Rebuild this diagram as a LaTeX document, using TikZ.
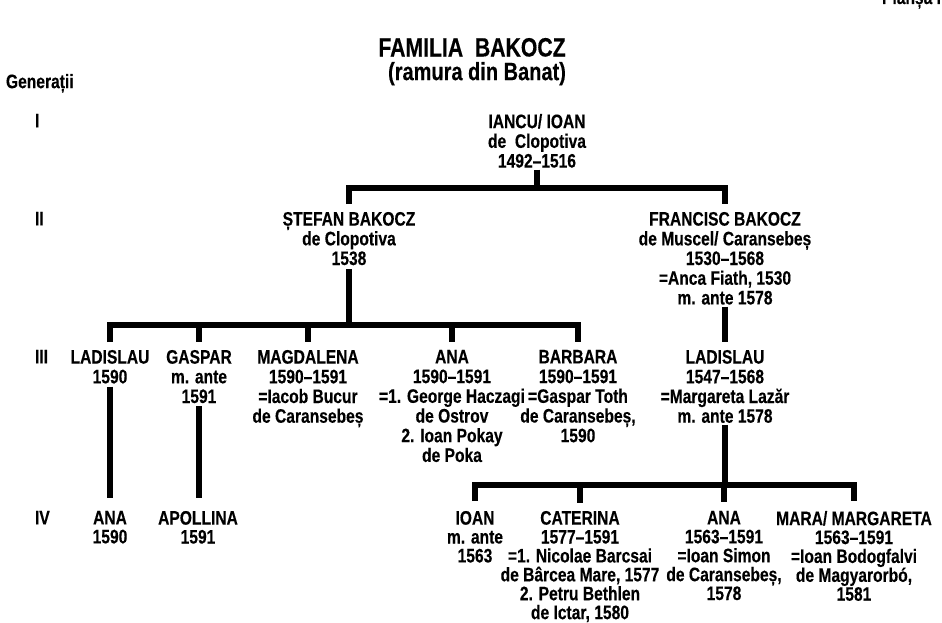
\documentclass[tikz,border=0pt]{standalone}
\usepackage{fontspec}
\setmainfont{Liberation Sans}[FakeStretch=0.8, BoldFeatures={FakeBold=0.3}]
\begin{document}
\begin{tikzpicture}[x=1pt,y=-1pt,
  every node/.style={inner sep=0pt, outer sep=0pt, align=center,
    font=\fontsize{19.5}{19.7}\selectfont\bfseries},
  person/.style={anchor=north},
  lastgen/.style={anchor=north, font=\fontsize{19.5}{18.9}\selectfont\bfseries},
  gen/.style={anchor=north west},
  ttl/.style={anchor=north, font=\fontsize{26.5}{28}\selectfont\bfseries},
  sttl/.style={anchor=north, font=\fontsize{25}{27}\selectfont\bfseries},
  conn/.style={line width=5.5pt, line join=miter}]
\useasboundingbox (0,0) rectangle (942,623);
\fill[white] (0,0) rectangle (942,623);

% titles
\node[ttl] (title) at (472,38) {FAMILIA\ \ BAKOCZ};
\node[sttl] (subtitle) at (477,62) {(ramura din Banat)};
\node[anchor=base east] (plansa) at (941,4) {Planșa I};
\node[gen] (gens) at (6,74) {Generații};

% generation numerals
\node[gen] (g1) at (35,114) {I};
\node[gen] (g2) at (35,212) {II};
\node[gen] (g3) at (35,350) {III};
\node[gen] (g4) at (35,511) {IV};

% generation I
\node[person] (iancu) at (537,114) {IANCU/ IOAN\\de\ \ Clopotiva\\1492–1516};

% generation II
\node[person] (stefan) at (349,212) {ȘTEFAN BAKOCZ\\de Clopotiva\\1538};
\node[person] (francisc) at (725,212) {FRANCISC BAKOCZ\\de Muscel/ Caransebeș\\1530–1568\\=Anca Fiath, 1530\\m. ante 1578};

% generation III
\node[person] (lad1) at (110,350) {LADISLAU\\1590};
\node[person] (gaspar) at (199,350) {GASPAR\\m. ante\\1591};
\node[person] (magda) at (308,350) {MAGDALENA\\1590–1591\\=Iacob Bucur\\de Caransebeș};
\node[person] (ana3) at (452,350) {ANA\\1590–1591\\=1. George Haczagi\\de Ostrov\\2. Ioan Pokay\\de Poka};
\node[person] (barbara) at (578,350) {BARBARA\\1590–1591\\=Gaspar Toth\\de Caransebeș,\\1590};
\node[person] (lad2) at (725,350) {LADISLAU\\1547–1568\\=Margareta Lazăr\\m. ante 1578};

% generation IV
\node[lastgen] (ana4a) at (110,511) {ANA\\1590};
\node[lastgen] (apollina) at (198,511) {APOLLINA\\1591};
\node[lastgen] (ioan) at (475,511) {IOAN\\m. ante\\1563};
\node[lastgen] (caterina) at (580,511) {CATERINA\\1577–1591\\=1. Nicolae Barcsai\\de Bârcea Mare, 1577\\2. Petru Bethlen\\de Ictar, 1580};
\node[lastgen] (ana4b) at (724,511) {ANA\\1563–1591\\=Ioan Simon\\de Caransebeș,\\1578};
\node[lastgen] (mara) at (854,511) {MARA/ MARGARETA\\1563–1591\\=Ioan Bodogfalvi\\de Magyarorbó,\\1581};

% bar levels
\coordinate (r1) at (0,188);
\coordinate (r2) at (0,325);
\coordinate (r3) at (0,485);

% I -> II
\draw[conn] ([yshift=-2pt]iancu.south) -- (iancu.south |- r1);
\draw[conn] ([yshift=8pt]stefan.north) -- (stefan.north |- r1) -- (francisc.north |- r1) -- ([yshift=8pt]francisc.north);

% II -> III
\draw[conn] ([yshift=-4pt]stefan.south) -- (stefan.south |- r2);
\draw[conn] ([yshift=8pt]lad1.north) -- (lad1.north |- r2) -- (barbara.north |- r2) -- ([yshift=8pt]barbara.north);
\draw[conn] (gaspar.north |- r2) -- ([yshift=8pt]gaspar.north);
\draw[conn] (magda.north |- r2) -- ([yshift=8pt]magda.north);
\draw[conn] (ana3.north |- r2) -- ([yshift=8pt]ana3.north);
\draw[conn] ([yshift=-2pt]francisc.south) -- ([yshift=8pt]lad2.north);

% III -> IV
\draw[conn] ([yshift=-3pt]lad1.south) -- ([yshift=13pt]lad1.south |- ana4a.north);
\draw[conn] ([yshift=-3pt]gaspar.south) -- ([yshift=13pt]gaspar.south |- apollina.north);
\draw[conn] ([yshift=-2pt]lad2.south) -- (lad2.south |- r3);
\draw[conn] ([yshift=10pt]ioan.north) -- (ioan.north |- r3) -- (mara.north |- r3) -- ([yshift=10pt]mara.north);
\draw[conn] (caterina.north |- r3) -- ([yshift=8pt]caterina.north);
\draw[conn] (ana4b.north |- r3) -- ([yshift=9pt]ana4b.north);
\end{tikzpicture}
\end{document}
